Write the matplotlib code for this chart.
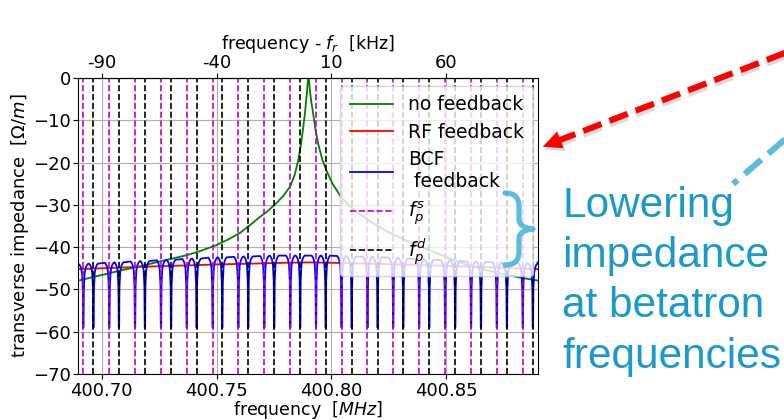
import numpy as np
import matplotlib
matplotlib.use('Agg')
import matplotlib.pyplot as plt
from matplotlib.lines import Line2D
from matplotlib.patches import Polygon, PathPatch
from matplotlib.path import Path

# ---------------- data ----------------
F_R = 400.79  # MHz, resonance frequency

# betatron sidebands (MHz)
fps = [400.6920, 400.7033, 400.7145, 400.7258, 400.7370, 400.7483, 400.7595,
       400.7708, 400.7821, 400.7933, 400.8044, 400.8157, 400.8269, 400.8382,
       400.8495, 400.8608, 400.8720, 400.8833]
fpd = [400.6964, 400.7075, 400.7188, 400.7302, 400.7413, 400.7525, 400.7638,
       400.7751, 400.7864, 400.7975, 400.8088, 400.8201, 400.8313, 400.8426,
       400.8539, 400.8651, 400.8764, 400.8877]

# no feedback (offset from f_r in kHz, value)
green_khz = [-100.2, -90, -80, -72, -65, -60, -53, -47, -40, -35, -30, -25,
             -21, -18, -14, -11, -8, -6, -4.5, -3.3, -2.3, -1.5, -0.8, -0.3,
             0.0, 0.3, 0.8, 1.4, 2.1, 3.0, 4.25, 6.0, 7.9, 10.5, 14, 18,
             22.4, 28, 35, 44, 53, 61, 69, 77, 85, 92, 99.8]
green_val = [-47.9, -46.6, -45.3, -44.4, -43.4, -42.8, -41.9, -40.9, -39.5,
             -38.2, -36.7, -34.6, -32.8, -31.6, -29.6, -27.9, -25.7, -22.9,
             -19.6, -15.8, -11.8, -8.2, -4.2, -1.0, 1.0, -1.0, -3.8, -6.2,
             -8.6, -12.0, -15.6, -19.2, -22.0, -25.0, -28.0, -30.3, -32.2,
             -34.3, -36.5, -38.8, -40.8, -42.6, -44.2, -45.4, -46.4, -47.2,
             -47.9]

# RF feedback
red_khz = [-100.2, -70, -40, -10, 0, 10, 40, 70, 99.8]
red_val = [-45.2, -44.6, -44.1, -43.7, -43.6, -43.7, -44.1, -44.6, -45.2]

# BCF feedback: plateau level next to each notch and notch floor
bcf_level = [-44.0, -43.9, -43.7, -43.6, -43.4, -43.3, -43.1, -43.0, -42.8,
             -42.7, -42.5, -42.4, -42.3, -42.2, -42.1, -42.0, -42.0, -42.0,
             -42.0, -42.0, -42.1, -42.2, -42.3, -42.4, -42.5, -42.7, -42.8,
             -43.0, -43.1, -43.3, -43.4, -43.5, -43.6, -43.7, -43.8, -43.9]
bcf_floor = -59.0
bcf_edge = [-44.2, -43.6]   # values at left / right plot edge

XLIM = (400.6898, 400.8898)

# ---------------- figure ----------------
W, H = 784, 420
fig = plt.figure(figsize=(W / 100, H / 100), dpi=100)
fig.patch.set_facecolor('white')

def px(x, y):
    return (x / W, 1 - y / H)

ax = fig.add_axes([78.3 / W, 1 - 374 / H, (537.7 - 78.3) / W, (374 - 78) / H])

def k2f(k):
    return F_R + np.asarray(k) / 1000.0

ax.plot(k2f(green_khz), green_val, color='g', lw=1.3, label='no feedback')
ax.plot(k2f(red_khz), red_val, color='r', lw=1.3, label='RF feedback')

# BCF curve: plateau with notches at every sideband
notches = sorted(fps + fpd)
tmpl_off = [-1.9, -1.5, -1.0, -0.55, -0.22, -0.08, 0.0, 0.08, 0.22, 0.55, 1.0, 1.5, 1.9]
tmpl_drop = [0.0, 0.3, 0.9, 2.2, 6.0, None, None, None, 6.0, 2.2, 0.9, 0.3, 0.0]
bx = [XLIM[0]]
by = [bcf_edge[0]]
for f0, lev in zip(notches, bcf_level):
    for o, d in zip(tmpl_off, tmpl_drop):
        bx.append(f0 + o / 1000.0)
        by.append(bcf_floor if d is None else lev - d)
bx.append(XLIM[1])
by.append(bcf_edge[1])
ax.plot(bx, by, color='b', lw=1.3, label='BCF\n feedback')

for i, f in enumerate(fps):
    ax.axvline(f, color='m', ls='--', lw=1.2, label='$f_p^s$' if i == 0 else None)
for i, f in enumerate(fpd):
    ax.axvline(f, color='k', ls='--', lw=1.2, label='$f_p^d$' if i == 0 else None)

ax.set_xlim(*XLIM)
ax.set_ylim(-70, 0)
ax.set_yticks(np.arange(-70, 1, 10))
ax.set_xticks([400.70, 400.75, 400.80, 400.85])
ax.set_xticklabels(['400.70', '400.75', '400.80', '400.85'])
ax.tick_params(labelsize=13, pad=2)
ax.grid(True, color='#b0b0b0', lw=0.8)
ax.set_xlabel(r'frequency  $[MHz]$', fontsize=12.5, labelpad=-0.5)
ax.set_ylabel(r'transverse impedance  $[\Omega/m]$', fontsize=13, labelpad=1)

sec = ax.secondary_xaxis('top', functions=(lambda f: (f - F_R) * 1000.0,
                                           lambda k: F_R + k / 1000.0))
sec.set_xticks([-90, -40, 10, 60])
sec.set_xticklabels(['-90', '-40', '10', '60'])
sec.tick_params(labelsize=13, pad=1)
sec.set_xlabel(r'frequency - $f_r$  [kHz]', fontsize=12.5, labelpad=3.5)

ax.legend(loc='upper right', bbox_to_anchor=(0.9898, 0.973), borderaxespad=0,
          fontsize=13.5, handlelength=2.3, labelspacing=0.45, borderpad=0.5,
          framealpha=0.8)

# ---------------- slide annotations ----------------
# red dashed arrow with shadow
tail = (786, 52.5)
tip = (542.7, 146.7)
ux, uy = tip[0] - tail[0], tip[1] - tail[1]
L = np.hypot(ux, uy)
ux, uy = ux / L, uy / L
nx, ny = -uy, ux
hl, hw = 19, 9
base = (tip[0] - ux * hl, tip[1] - uy * hl)
for dx, dy, col, al in [(2.0, 3.0, '#777777', 0.25), (0, 0, '#ff0000', 1.0)]:
    p0 = px(tail[0] + dx, tail[1] + dy)
    p1 = px(base[0] + dx + ux * 2, base[1] + dy + uy * 2)
    fig.add_artist(Line2D([p0[0], p1[0]], [p0[1], p1[1]], transform=fig.transFigure,
                          color=col, alpha=al, lw=4.4, ls=(0, (3.2, 1.4)),
                          solid_capstyle='butt', dash_capstyle='butt'))
    head = [px(tip[0] + dx, tip[1] + dy),
            px(base[0] + nx * hw + dx, base[1] + ny * hw + dy),
            px(base[0] - nx * hw + dx, base[1] - ny * hw + dy)]
    fig.add_artist(Polygon(head, closed=True, transform=fig.transFigure,
                           facecolor=col, edgecolor='none', alpha=al))

# light blue dashed pointer
lb = '#5cbcdc'
q0, q1 = px(786, 138.5), px(733, 184)
fig.add_artist(Line2D([q0[0], q1[0]], [q0[1], q1[1]], transform=fig.transFigure,
                      color=lb, lw=4.4, ls=(0, (3.6, 1.5)), dash_capstyle='butt'))

# curly brace
verts = [(505, 193), (515, 193), (519, 198), (519, 207),
         (519, 219),
         (519, 225), (524, 228), (533, 229),
         (524, 230), (519, 233), (519, 239),
         (519, 252),
         (519, 260), (515, 265), (505, 265)]
codes = [Path.MOVETO, Path.CURVE4, Path.CURVE4, Path.CURVE4,
         Path.LINETO,
         Path.CURVE4, Path.CURVE4, Path.CURVE4,
         Path.CURVE4, Path.CURVE4, Path.CURVE4,
         Path.LINETO,
         Path.CURVE4, Path.CURVE4, Path.CURVE4]
brace = Path([px(*v) for v in verts], codes)
fig.add_artist(PathPatch(brace, transform=fig.transFigure, facecolor='none',
                         edgecolor=lb, lw=3.8, capstyle='round', joinstyle='round'))

fig.text(562 / W, 1 - 186 / H, 'Lowering\nimpedance\nat betatron\nfrequencies',
         fontsize=30.5, family='Liberation Sans', color='#1c9ac7',
         ha='left', va='top', linespacing=1.33)

fig.savefig('out.png', dpi=100, facecolor='white')
